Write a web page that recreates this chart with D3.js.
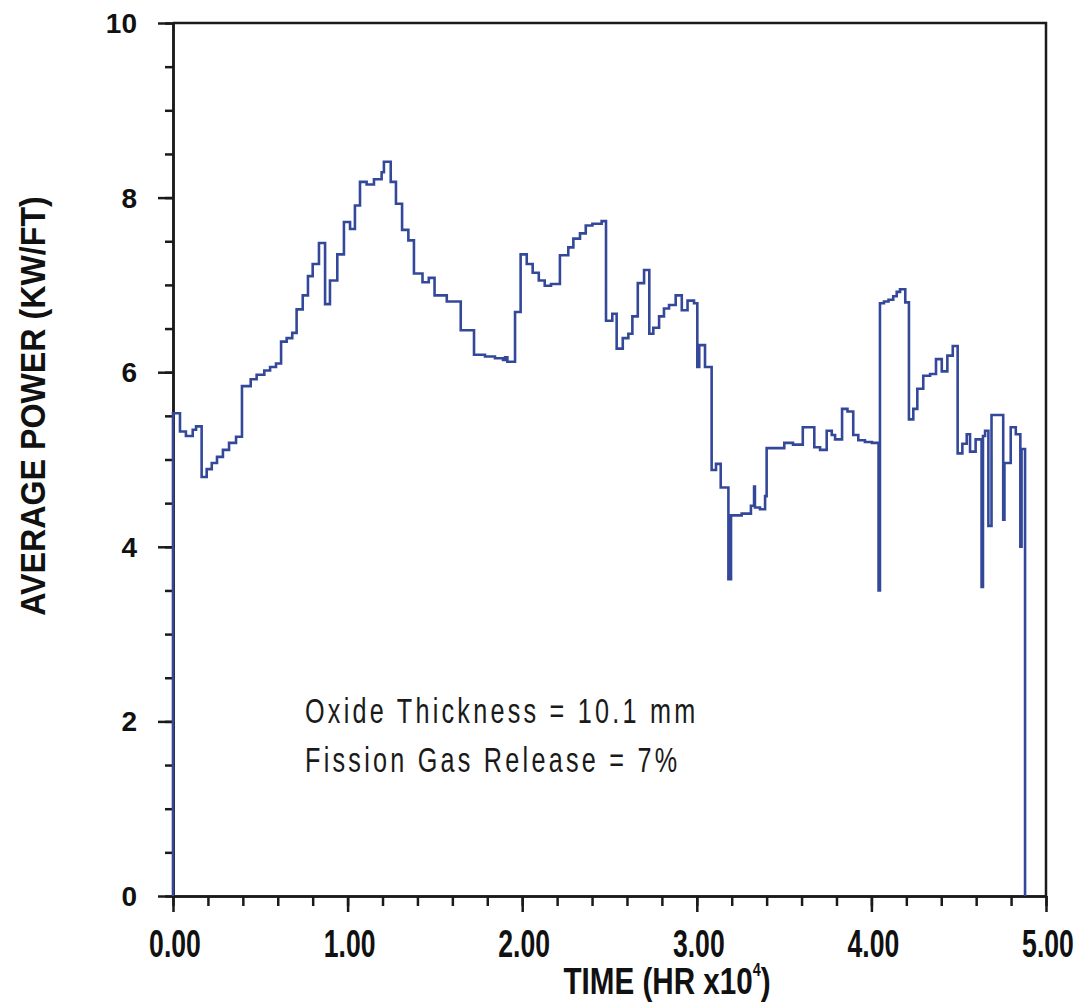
<!DOCTYPE html>
<html>
<head>
<meta charset="utf-8">
<script src="https://cdn.jsdelivr.net/npm/d3@7"></script>
<style>
  body { margin: 0; background: #fff; }
  svg { display: block; }
</style>
</head>
<body>
<svg id="chart"></svg>
<script>
// time in units of 10^4 hr, power in kW/ft (step history)
const timeHr = [0, 0, 0.040, 0.074, 0.113, 0.132, 0.164, 0.193, 0.222, 0.252,
  0.286, 0.321, 0.361, 0.395, 0.445, 0.479, 0.523, 0.556, 0.590, 0.619,
  0.651, 0.683, 0.708, 0.743, 0.773, 0.800, 0.836, 0.871, 0.899, 0.941,
  0.979, 1.014, 1.042, 1.071, 1.109, 1.151, 1.195, 1.208, 1.247, 1.277,
  1.312, 1.348, 1.380, 1.429, 1.465, 1.498, 1.568, 1.648, 1.724, 1.787,
  1.844, 1.890, 1.902, 1.915, 1.959, 1.991, 2.026, 2.060, 2.095, 2.129,
  2.165, 2.216, 2.264, 2.293, 2.331, 2.364, 2.402, 2.455, 2.480, 2.516,
  2.541, 2.576, 2.608, 2.631, 2.662, 2.698, 2.728, 2.751, 2.784, 2.812,
  2.841, 2.879, 2.914, 2.947, 2.984, 3.003, 3.014, 3.047, 3.085, 3.110,
  3.137, 3.181, 3.196, 3.257, 3.310, 3.328, 3.333, 3.362, 3.391, 3.400,
  3.501, 3.551, 3.607, 3.673, 3.706, 3.744, 3.773, 3.792, 3.832, 3.863,
  3.896, 3.925, 3.963, 4.003, 4.041, 4.049, 4.072, 4.098, 4.125, 4.145,
  4.164, 4.194, 4.215, 4.240, 4.263, 4.297, 4.336, 4.370, 4.403, 4.435,
  4.466, 4.494, 4.521, 4.546, 4.565, 4.597, 4.631, 4.639, 4.651, 4.670,
  4.688, 4.755, 4.762, 4.798, 4.827, 4.853, 4.860, 4.880];

const power = [0, 5.53, 5.32, 5.27, 5.34, 5.38, 4.80, 4.89, 4.96, 5.03,
  5.11, 5.19, 5.26, 5.84, 5.92, 5.97, 6.02, 6.06, 6.10, 6.35,
  6.39, 6.45, 6.72, 6.88, 7.10, 7.24, 7.48, 6.78, 7.05, 7.35,
  7.72, 7.64, 7.91, 8.18, 8.15, 8.21, 8.29, 8.41, 8.18, 7.93,
  7.63, 7.51, 7.13, 7.03, 7.08, 6.88, 6.81, 6.48, 6.20, 6.18,
  6.16, 6.14, 6.17, 6.12, 6.69, 7.35, 7.24, 7.14, 7.05, 6.99,
  7.01, 7.34, 7.43, 7.53, 7.59, 7.68, 7.70, 7.73, 6.59, 6.67,
  6.27, 6.39, 6.44, 6.64, 7.02, 7.17, 6.44, 6.51, 6.64, 6.73,
  6.77, 6.88, 6.71, 6.82, 6.79, 6.06, 6.31, 6.06, 4.88, 4.95,
  4.68, 3.63, 4.36, 4.38, 4.47, 4.69, 4.45, 4.43, 4.58, 5.13,
  5.19, 5.17, 5.37, 5.14, 5.11, 5.33, 5.28, 5.23, 5.58, 5.55,
  5.28, 5.22, 5.20, 5.19, 3.50, 6.79, 6.81, 6.83, 6.87, 6.92,
  6.95, 6.80, 5.46, 5.58, 5.81, 5.96, 5.98, 6.15, 6.01, 6.19,
  6.30, 5.07, 5.18, 5.29, 5.09, 5.23, 3.54, 5.27, 5.33, 4.24,
  5.51, 4.31, 4.96, 5.37, 5.29, 4.00, 5.12, 0];

const xMajor = [0, 1, 2, 3, 4, 5];
const xLabels = ["0.00", "1.00", "2.00", "3.00", "4.00", "5.00"];
const xMinor = d3.range(0, 5.001, 0.2);
const yMajor = [0, 2, 4, 6, 8, 10];
const yMinor = d3.range(0, 10.001, 0.5);
const notes = ["Oxide Thickness = 10.1 mm", "Fission Gas Release = 7%"];

const width = 1087, height = 1002;
const svg = d3.select("#chart").attr("width", width).attr("height", height);
svg.append("rect").attr("width", width).attr("height", height).attr("fill", "#fff");

const x = d3.scaleLinear().domain([0, 5]).range([173, 1046]);
const y = d3.scaleLinear().domain([0, 10]).range([896, 23]);

const axisColor = "#1a1a1a";

// frame top + right
svg.append("path")
  .attr("d", `M${x(0)},${y(10)}H${x(5)}V${y(0)}`)
  .attr("fill", "none").attr("stroke", axisColor).attr("stroke-width", 2.5);

function styleAxis(g) {
  g.select(".domain").attr("stroke", axisColor).attr("stroke-width", 2.5);
  g.selectAll(".tick line").attr("stroke", axisColor).attr("stroke-width", 2.5);
  g.selectAll(".tick text").remove();
}

svg.append("g").attr("transform", `translate(${x(0)},0)`)
  .call(d3.axisLeft(y).tickValues(yMinor).tickSize(8).tickSizeOuter(0).tickFormat(""))
  .call(styleAxis);
svg.append("g").attr("transform", `translate(${x(0)},0)`)
  .call(d3.axisLeft(y).tickValues(yMajor).tickSize(15).tickSizeOuter(0).tickFormat(""))
  .call(styleAxis);
svg.append("g").attr("transform", `translate(0,${y(0)})`)
  .call(d3.axisBottom(x).tickValues(xMinor).tickSize(10).tickSizeOuter(0).tickFormat(""))
  .call(styleAxis);
svg.append("g").attr("transform", `translate(0,${y(0)})`)
  .call(d3.axisBottom(x).tickValues(xMajor).tickSize(16).tickSizeOuter(0).tickFormat(""))
  .call(styleAxis);

// y tick labels
svg.selectAll(".ylab").data(yMajor).join("text")
  .attr("x", 137).attr("y", d => y(d) + 10)
  .attr("text-anchor", "end")
  .attr("font-family", "Liberation Sans, Arial, sans-serif")
  .attr("font-weight", "bold").attr("font-size", 28).attr("fill", "#111")
  .text(d => d);

// x tick labels (condensed look)
svg.selectAll(".xlab").data(xMajor).join("text")
  .attr("transform", d => `translate(${x(d) + 2},957) scale(0.7,1)`)
  .attr("text-anchor", "middle")
  .attr("font-family", "Liberation Sans, Arial, sans-serif")
  .attr("font-weight", "bold").attr("font-size", 38).attr("fill", "#111")
  .text((d, i) => xLabels[i]);

// x title
const xt = svg.append("text")
  .attr("transform", "translate(667,994) scale(0.8,1)")
  .attr("text-anchor", "middle")
  .attr("font-family", "Liberation Sans, Arial, sans-serif")
  .attr("font-weight", "bold").attr("font-size", 37).attr("fill", "#111");
xt.append("tspan").text("TIME (HR x10");
xt.append("tspan").attr("font-size", 18).attr("dy", -18).text("4");
xt.append("tspan").attr("dy", 18).text(")");

// y title
svg.append("text")
  .attr("transform", "translate(45,406) rotate(-90) scale(0.92,1)")
  .attr("text-anchor", "middle")
  .attr("font-family", "Liberation Sans, Arial, sans-serif")
  .attr("font-weight", "bold").attr("font-size", 35).attr("fill", "#111")
  .text("AVERAGE POWER (KW/FT)");

// annotations
svg.selectAll(".note").data(notes).join("text")
  .attr("transform", (d, i) => `translate(305,${723 + i * 49}) scale(0.72,1)`)
  .attr("font-family", "Liberation Sans, Arial, sans-serif")
  .attr("font-size", 35).attr("letter-spacing", 4.5).attr("fill", "#1a1a1a")
  .text(d => d);

// power history
const pts = d3.zip(timeHr, power);
const line = d3.line().x(d => x(d[0])).y(d => y(d[1])).curve(d3.curveStepAfter);
svg.append("path")
  .datum(pts)
  .attr("d", line)
  .attr("fill", "none")
  .attr("stroke", "#34489a")
  .attr("stroke-width", 2.6)
  .attr("stroke-linejoin", "miter");
</script>
</body>
</html>
